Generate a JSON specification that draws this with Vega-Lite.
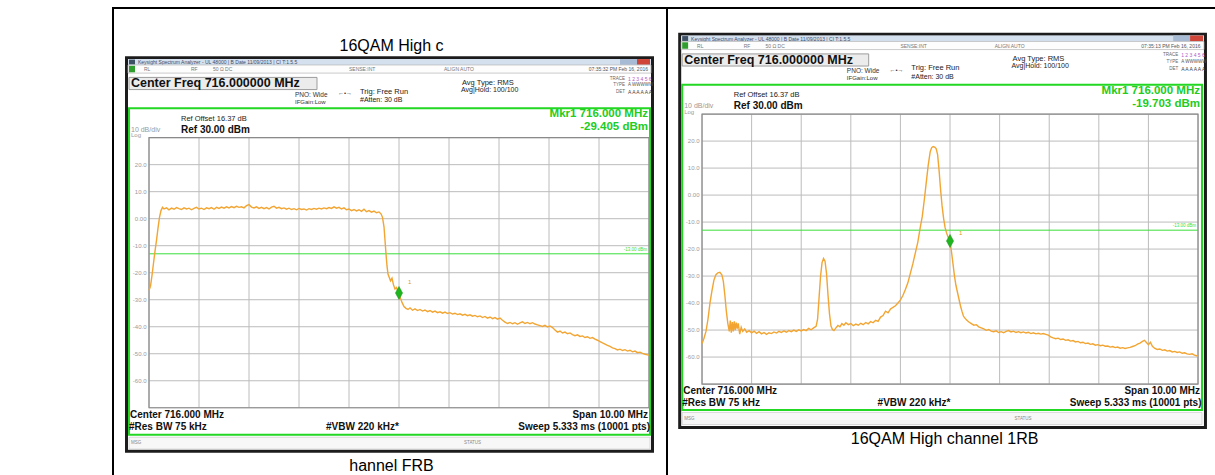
{
"$schema":"https://vega.github.io/schema/vega-lite/v6.json",
"background":"white",
"padding":{"left":7,"top":7,"right":0,"bottom":0},
"spacing":0,
"bounds":"flush",
"config":{"view":{"stroke":"#000000","strokeWidth":2},"font":"Liberation Sans"},
"datasets":{
"one":[{"k":1}],
"vgrid":[{"f":711},{"f":712},{"f":713},{"f":714},{"f":715},{"f":716},{"f":717},{"f":718},{"f":719},{"f":720},{"f":721}],
"hgrid":[{"d":30,"lab":""},{"d":20,"lab":"20.0"},{"d":10,"lab":"10.0"},{"d":0,"lab":"0.00"},{"d":-10,"lab":"-10.0"},{"d":-20,"lab":"-20.0"},{"d":-30,"lab":"-30.0"},{"d":-40,"lab":"-40.0"},{"d":-50,"lab":"-50.0"},{"d":-60,"lab":"-60.0"},{"d":-70,"lab":""}],
"markL":[{"f":716.0,"d":-27.5}],
"markR":[{"f":716.0,"d":-17.0}],
"traceL":[{"f":711.00,"d":-26.5},{"f":711.03,"d":-25.0},{"f":711.06,"d":-21.0},{"f":711.09,"d":-16.5},{"f":711.12,"d":-12.0},{"f":711.15,"d":-8.0},{"f":711.18,"d":-3.5},{"f":711.21,"d":0.5},{"f":711.24,"d":3.0},{"f":711.27,"d":4.2},{"f":711.30,"d":3.6},{"f":711.35,"d":4.0},{"f":711.40,"d":3.3},{"f":711.45,"d":3.9},{"f":711.50,"d":3.5},{"f":711.55,"d":4.1},{"f":711.60,"d":3.7},{"f":711.65,"d":3.4},{"f":711.70,"d":4.0},{"f":711.75,"d":3.6},{"f":711.80,"d":3.9},{"f":711.85,"d":3.3},{"f":711.90,"d":3.8},{"f":711.95,"d":4.2},{"f":712.00,"d":3.6},{"f":712.05,"d":3.9},{"f":712.10,"d":3.4},{"f":712.15,"d":4.0},{"f":712.20,"d":3.7},{"f":712.25,"d":4.1},{"f":712.30,"d":3.5},{"f":712.35,"d":4.2},{"f":712.40,"d":3.8},{"f":712.45,"d":4.3},{"f":712.50,"d":3.9},{"f":712.55,"d":4.4},{"f":712.60,"d":4.0},{"f":712.65,"d":4.5},{"f":712.70,"d":4.1},{"f":712.75,"d":4.6},{"f":712.80,"d":4.2},{"f":712.85,"d":4.4},{"f":712.90,"d":4.0},{"f":712.95,"d":4.8},{"f":713.00,"d":5.2},{"f":713.05,"d":4.3},{"f":713.10,"d":4.0},{"f":713.15,"d":4.4},{"f":713.20,"d":3.8},{"f":713.25,"d":4.2},{"f":713.30,"d":3.7},{"f":713.35,"d":4.1},{"f":713.40,"d":3.6},{"f":713.45,"d":4.3},{"f":713.50,"d":4.6},{"f":713.55,"d":3.9},{"f":713.60,"d":4.2},{"f":713.65,"d":3.7},{"f":713.70,"d":4.0},{"f":713.75,"d":3.5},{"f":713.80,"d":3.9},{"f":713.85,"d":3.4},{"f":713.90,"d":3.7},{"f":713.95,"d":3.3},{"f":714.00,"d":3.8},{"f":714.05,"d":3.4},{"f":714.10,"d":3.6},{"f":714.15,"d":3.2},{"f":714.20,"d":3.7},{"f":714.25,"d":3.4},{"f":714.30,"d":3.8},{"f":714.35,"d":3.5},{"f":714.40,"d":3.9},{"f":714.45,"d":3.6},{"f":714.50,"d":4.0},{"f":714.55,"d":3.7},{"f":714.60,"d":4.1},{"f":714.65,"d":3.8},{"f":714.70,"d":4.4},{"f":714.75,"d":3.9},{"f":714.80,"d":4.2},{"f":714.85,"d":3.6},{"f":714.90,"d":4.0},{"f":714.95,"d":3.3},{"f":715.00,"d":3.6},{"f":715.05,"d":3.0},{"f":715.10,"d":3.4},{"f":715.15,"d":2.9},{"f":715.20,"d":3.3},{"f":715.25,"d":2.7},{"f":715.30,"d":3.5},{"f":715.35,"d":2.6},{"f":715.40,"d":3.0},{"f":715.45,"d":2.4},{"f":715.50,"d":2.8},{"f":715.55,"d":2.2},{"f":715.60,"d":2.5},{"f":715.64,"d":1.8},{"f":715.67,"d":0.5},{"f":715.70,"d":-3.0},{"f":715.72,"d":-8.0},{"f":715.74,"d":-13.0},{"f":715.76,"d":-17.5},{"f":715.78,"d":-20.5},{"f":715.80,"d":-21.5},{"f":715.83,"d":-23.0},{"f":715.86,"d":-22.0},{"f":715.89,"d":-24.5},{"f":715.92,"d":-26.0},{"f":715.95,"d":-25.5},{"f":715.98,"d":-27.0},{"f":716.00,"d":-27.6},{"f":716.03,"d":-29.5},{"f":716.06,"d":-31.0},{"f":716.10,"d":-32.5},{"f":716.14,"d":-33.2},{"f":716.18,"d":-33.6},{"f":716.22,"d":-33.0},{"f":716.27,"d":-33.9},{"f":716.32,"d":-33.4},{"f":716.37,"d":-34.0},{"f":716.42,"d":-33.6},{"f":716.47,"d":-34.2},{"f":716.52,"d":-33.8},{"f":716.57,"d":-34.4},{"f":716.62,"d":-34.0},{"f":716.67,"d":-34.6},{"f":716.72,"d":-34.2},{"f":716.77,"d":-34.8},{"f":716.82,"d":-34.5},{"f":716.87,"d":-35.0},{"f":716.92,"d":-34.6},{"f":716.97,"d":-35.1},{"f":717.02,"d":-34.8},{"f":717.07,"d":-35.3},{"f":717.12,"d":-35.0},{"f":717.17,"d":-35.5},{"f":717.22,"d":-35.2},{"f":717.27,"d":-35.7},{"f":717.32,"d":-35.4},{"f":717.37,"d":-35.9},{"f":717.42,"d":-35.6},{"f":717.47,"d":-36.1},{"f":717.52,"d":-35.8},{"f":717.57,"d":-36.3},{"f":717.62,"d":-36.0},{"f":717.67,"d":-36.6},{"f":717.72,"d":-36.2},{"f":717.77,"d":-36.8},{"f":717.82,"d":-36.4},{"f":717.87,"d":-37.0},{"f":717.92,"d":-36.6},{"f":717.97,"d":-37.2},{"f":718.02,"d":-36.8},{"f":718.07,"d":-37.6},{"f":718.12,"d":-38.3},{"f":718.17,"d":-38.8},{"f":718.22,"d":-38.4},{"f":718.27,"d":-38.9},{"f":718.32,"d":-38.5},{"f":718.37,"d":-39.1},{"f":718.42,"d":-38.6},{"f":718.47,"d":-38.2},{"f":718.52,"d":-38.8},{"f":718.57,"d":-38.4},{"f":718.62,"d":-38.9},{"f":718.67,"d":-38.5},{"f":718.72,"d":-39.0},{"f":718.77,"d":-39.3},{"f":718.82,"d":-39.6},{"f":718.87,"d":-39.9},{"f":718.92,"d":-39.5},{"f":718.97,"d":-40.1},{"f":719.02,"d":-39.7},{"f":719.07,"d":-40.3},{"f":719.12,"d":-41.2},{"f":719.17,"d":-42.0},{"f":719.22,"d":-41.6},{"f":719.27,"d":-42.3},{"f":719.32,"d":-42.0},{"f":719.37,"d":-42.6},{"f":719.42,"d":-42.3},{"f":719.47,"d":-42.9},{"f":719.52,"d":-43.3},{"f":719.57,"d":-43.0},{"f":719.62,"d":-43.6},{"f":719.67,"d":-43.4},{"f":719.72,"d":-44.0},{"f":719.77,"d":-43.7},{"f":719.82,"d":-44.3},{"f":719.87,"d":-44.0},{"f":719.92,"d":-44.6},{"f":719.97,"d":-45.0},{"f":720.02,"d":-45.5},{"f":720.07,"d":-46.0},{"f":720.12,"d":-46.4},{"f":720.17,"d":-46.9},{"f":720.22,"d":-47.3},{"f":720.27,"d":-47.8},{"f":720.32,"d":-48.1},{"f":720.37,"d":-48.6},{"f":720.42,"d":-48.3},{"f":720.47,"d":-48.8},{"f":720.52,"d":-48.5},{"f":720.57,"d":-49.0},{"f":720.62,"d":-48.7},{"f":720.67,"d":-49.3},{"f":720.72,"d":-49.0},{"f":720.77,"d":-49.6},{"f":720.82,"d":-49.4},{"f":720.87,"d":-49.9},{"f":720.92,"d":-50.2},{"f":720.97,"d":-50.4},{"f":721.00,"d":-50.6}],
"traceR":[{"f":711.00,"d":-55.0},{"f":711.04,"d":-53.0},{"f":711.08,"d":-50.5},{"f":711.12,"d":-46.0},{"f":711.16,"d":-40.0},{"f":711.20,"d":-35.5},{"f":711.24,"d":-31.5},{"f":711.28,"d":-29.5},{"f":711.32,"d":-28.8},{"f":711.36,"d":-28.6},{"f":711.40,"d":-29.5},{"f":711.43,"d":-32.0},{"f":711.46,"d":-37.0},{"f":711.49,"d":-43.0},{"f":711.52,"d":-47.5},{"f":711.55,"d":-50.5},{"f":711.57,"d":-46.5},{"f":711.59,"d":-51.0},{"f":711.61,"d":-47.0},{"f":711.63,"d":-50.5},{"f":711.65,"d":-46.8},{"f":711.67,"d":-50.0},{"f":711.69,"d":-47.2},{"f":711.71,"d":-49.5},{"f":711.73,"d":-47.5},{"f":711.76,"d":-51.5},{"f":711.79,"d":-49.0},{"f":711.82,"d":-50.5},{"f":711.86,"d":-49.6},{"f":711.90,"d":-50.8},{"f":711.95,"d":-50.2},{"f":712.00,"d":-51.0},{"f":712.05,"d":-50.4},{"f":712.10,"d":-51.2},{"f":712.15,"d":-50.6},{"f":712.20,"d":-51.4},{"f":712.25,"d":-50.9},{"f":712.30,"d":-51.6},{"f":712.35,"d":-51.0},{"f":712.40,"d":-51.3},{"f":712.45,"d":-50.7},{"f":712.50,"d":-51.1},{"f":712.55,"d":-50.5},{"f":712.60,"d":-50.9},{"f":712.65,"d":-50.3},{"f":712.70,"d":-50.8},{"f":712.75,"d":-50.2},{"f":712.80,"d":-50.6},{"f":712.85,"d":-50.0},{"f":712.90,"d":-50.5},{"f":712.95,"d":-49.9},{"f":713.00,"d":-50.3},{"f":713.05,"d":-49.8},{"f":713.10,"d":-50.2},{"f":713.15,"d":-49.4},{"f":713.20,"d":-49.9},{"f":713.25,"d":-49.2},{"f":713.30,"d":-48.6},{"f":713.33,"d":-46.0},{"f":713.36,"d":-38.0},{"f":713.39,"d":-30.0},{"f":713.42,"d":-25.0},{"f":713.45,"d":-23.5},{"f":713.48,"d":-24.5},{"f":713.51,"d":-29.0},{"f":713.54,"d":-37.0},{"f":713.57,"d":-44.0},{"f":713.60,"d":-48.5},{"f":713.63,"d":-49.8},{"f":713.66,"d":-50.2},{"f":713.70,"d":-49.2},{"f":713.74,"d":-48.3},{"f":713.78,"d":-48.8},{"f":713.82,"d":-47.6},{"f":713.86,"d":-48.2},{"f":713.90,"d":-47.3},{"f":713.95,"d":-48.0},{"f":714.00,"d":-47.6},{"f":714.05,"d":-48.4},{"f":714.10,"d":-47.8},{"f":714.15,"d":-48.2},{"f":714.20,"d":-47.5},{"f":714.25,"d":-48.0},{"f":714.30,"d":-47.2},{"f":714.35,"d":-47.7},{"f":714.40,"d":-46.9},{"f":714.45,"d":-47.3},{"f":714.50,"d":-46.4},{"f":714.55,"d":-46.8},{"f":714.60,"d":-45.2},{"f":714.65,"d":-44.6},{"f":714.70,"d":-43.0},{"f":714.75,"d":-43.6},{"f":714.80,"d":-42.2},{"f":714.85,"d":-41.6},{"f":714.90,"d":-41.0},{"f":714.95,"d":-40.0},{"f":715.00,"d":-38.8},{"f":715.05,"d":-37.2},{"f":715.10,"d":-35.0},{"f":715.15,"d":-32.5},{"f":715.20,"d":-29.0},{"f":715.25,"d":-25.5},{"f":715.30,"d":-21.5},{"f":715.35,"d":-17.5},{"f":715.40,"d":-12.0},{"f":715.44,"d":-8.0},{"f":715.48,"d":-2.0},{"f":715.52,"d":4.5},{"f":715.56,"d":11.0},{"f":715.60,"d":16.0},{"f":715.63,"d":17.6},{"f":715.66,"d":18.0},{"f":715.69,"d":17.8},{"f":715.72,"d":17.2},{"f":715.75,"d":15.0},{"f":715.78,"d":9.0},{"f":715.81,"d":2.0},{"f":715.84,"d":-4.0},{"f":715.87,"d":-8.5},{"f":715.90,"d":-12.0},{"f":715.93,"d":-14.0},{"f":715.96,"d":-15.5},{"f":716.00,"d":-17.0},{"f":716.03,"d":-21.0},{"f":716.06,"d":-25.5},{"f":716.09,"d":-30.0},{"f":716.12,"d":-33.5},{"f":716.15,"d":-36.0},{"f":716.18,"d":-38.5},{"f":716.21,"d":-41.0},{"f":716.24,"d":-43.0},{"f":716.27,"d":-44.8},{"f":716.30,"d":-45.6},{"f":716.34,"d":-46.4},{"f":716.38,"d":-47.0},{"f":716.43,"d":-47.6},{"f":716.48,"d":-48.2},{"f":716.53,"d":-48.0},{"f":716.58,"d":-48.8},{"f":716.63,"d":-49.2},{"f":716.68,"d":-49.6},{"f":716.73,"d":-50.1},{"f":716.78,"d":-49.8},{"f":716.83,"d":-50.4},{"f":716.88,"d":-50.6},{"f":716.93,"d":-50.3},{"f":716.98,"d":-50.9},{"f":717.03,"d":-50.6},{"f":717.08,"d":-51.0},{"f":717.13,"d":-50.5},{"f":717.18,"d":-50.2},{"f":717.23,"d":-50.7},{"f":717.28,"d":-50.4},{"f":717.33,"d":-50.9},{"f":717.38,"d":-50.6},{"f":717.43,"d":-51.0},{"f":717.48,"d":-50.7},{"f":717.53,"d":-51.1},{"f":717.58,"d":-50.8},{"f":717.63,"d":-51.3},{"f":717.68,"d":-51.0},{"f":717.73,"d":-51.4},{"f":717.78,"d":-51.2},{"f":717.83,"d":-51.5},{"f":717.88,"d":-51.3},{"f":717.93,"d":-51.6},{"f":717.98,"d":-51.9},{"f":718.03,"d":-52.5},{"f":718.08,"d":-52.9},{"f":718.13,"d":-53.2},{"f":718.18,"d":-53.0},{"f":718.23,"d":-53.5},{"f":718.28,"d":-53.3},{"f":718.33,"d":-53.8},{"f":718.38,"d":-53.6},{"f":718.43,"d":-54.1},{"f":718.48,"d":-53.9},{"f":718.53,"d":-54.4},{"f":718.58,"d":-54.2},{"f":718.63,"d":-54.7},{"f":718.68,"d":-54.5},{"f":718.73,"d":-55.0},{"f":718.78,"d":-54.8},{"f":718.83,"d":-55.3},{"f":718.88,"d":-55.1},{"f":718.93,"d":-55.6},{"f":718.98,"d":-55.4},{"f":719.03,"d":-55.8},{"f":719.08,"d":-55.6},{"f":719.13,"d":-56.0},{"f":719.18,"d":-55.9},{"f":719.23,"d":-56.3},{"f":719.28,"d":-56.1},{"f":719.33,"d":-56.5},{"f":719.38,"d":-56.3},{"f":719.43,"d":-56.7},{"f":719.48,"d":-56.5},{"f":719.53,"d":-56.8},{"f":719.58,"d":-56.6},{"f":719.63,"d":-56.4},{"f":719.68,"d":-56.1},{"f":719.73,"d":-55.8},{"f":719.78,"d":-55.2},{"f":719.83,"d":-54.8},{"f":719.88,"d":-54.2},{"f":719.92,"d":-53.8},{"f":719.96,"d":-54.6},{"f":720.00,"d":-55.4},{"f":720.04,"d":-54.5},{"f":720.08,"d":-56.0},{"f":720.13,"d":-56.8},{"f":720.18,"d":-57.2},{"f":720.23,"d":-57.0},{"f":720.28,"d":-57.5},{"f":720.33,"d":-57.3},{"f":720.38,"d":-57.8},{"f":720.43,"d":-57.6},{"f":720.48,"d":-58.1},{"f":720.53,"d":-57.9},{"f":720.58,"d":-58.3},{"f":720.63,"d":-58.1},{"f":720.68,"d":-58.6},{"f":720.73,"d":-58.4},{"f":720.78,"d":-58.8},{"f":720.83,"d":-59.0},{"f":720.88,"d":-58.8},{"f":720.93,"d":-59.3},{"f":720.97,"d":-59.5},{"f":721.00,"d":-59.7}]
},
"hconcat":[
{"width":106,"height":470,"data":{"name":"one"},"mark":{"type":"text","text":""}},
{"width":554,"height":470,"data":{"name":"one"},
"layer":[
{"mark":{"type":"rect","fill":"#ffffff","stroke":"#1c1c1c","strokeWidth":3},"encoding":{"x":{"datum":710.55,"type":"quantitative","scale":{"domain":[710.28,721.36],"nice":false,"zero":false},"axis":null},"x2":{"datum":721.07},"y":{"datum":59.6,"type":"quantitative","scale":{"domain":[-96,78],"nice":false,"zero":false},"axis":null},"y2":{"datum":-86.1}}},
{"mark":{"type":"rect","fill":"#d4e0ee"},"encoding":{"x":{"datum":710.58,"type":"quantitative","scale":{"domain":[710.28,721.36],"nice":false,"zero":false},"axis":null},"x2":{"datum":721.04},"y":{"datum":59.1,"type":"quantitative","scale":{"domain":[-96,78],"nice":false,"zero":false},"axis":null},"y2":{"datum":56.9}}},
{"mark":{"type":"rect","fill":"#3e5064"},"encoding":{"x":{"datum":710.6,"type":"quantitative","scale":{"domain":[710.28,721.36],"nice":false,"zero":false},"axis":null},"x2":{"datum":710.72},"y":{"datum":58.9,"type":"quantitative","scale":{"domain":[-96,78],"nice":false,"zero":false},"axis":null},"y2":{"datum":57.1}}},
{"mark":{"type":"rect","fill":"#a8bbd4"},"encoding":{"x":{"datum":720.42,"type":"quantitative","scale":{"domain":[710.28,721.36],"nice":false,"zero":false},"axis":null},"x2":{"datum":720.76},"y":{"datum":59.1,"type":"quantitative","scale":{"domain":[-96,78],"nice":false,"zero":false},"axis":null},"y2":{"datum":57.0}}},
{"mark":{"type":"rect","fill":"#cf4538"},"encoding":{"x":{"datum":720.76,"type":"quantitative","scale":{"domain":[710.28,721.36],"nice":false,"zero":false},"axis":null},"x2":{"datum":721.02},"y":{"datum":59.1,"type":"quantitative","scale":{"domain":[-96,78],"nice":false,"zero":false},"axis":null},"y2":{"datum":57.0}}},
{"mark":{"type":"text","text":"Keysight Spectrum Analyzer - UL 48000 | B Date 11/09/2013 | CI T:1.5.5","fontSize":5,"fill":"#3b4b6b","align":"left","baseline":"middle"},"encoding":{"x":{"datum":710.78,"type":"quantitative","scale":{"domain":[710.28,721.36],"nice":false,"zero":false},"axis":null},"y":{"datum":58.0,"type":"quantitative","scale":{"domain":[-96,78],"nice":false,"zero":false},"axis":null}}},
{"mark":{"type":"rect","fill":"#fdfdfd","stroke":"#b5b5b5","strokeWidth":0.7},"encoding":{"x":{"datum":710.58,"type":"quantitative","scale":{"domain":[710.28,721.36],"nice":false,"zero":false},"axis":null},"x2":{"datum":721.04},"y":{"datum":56.9,"type":"quantitative","scale":{"domain":[-96,78],"nice":false,"zero":false},"axis":null},"y2":{"datum":53.9}}},
{"mark":{"type":"rect","fill":"#2f9e2f"},"encoding":{"x":{"datum":710.6,"type":"quantitative","scale":{"domain":[710.28,721.36],"nice":false,"zero":false},"axis":null},"x2":{"datum":710.72},"y":{"datum":56.6,"type":"quantitative","scale":{"domain":[-96,78],"nice":false,"zero":false},"axis":null},"y2":{"datum":54.2}}},
{"mark":{"type":"text","text":"RL","fontSize":5,"fill":"#777777","align":"left","baseline":"middle"},"encoding":{"x":{"datum":710.9,"type":"quantitative","scale":{"domain":[710.28,721.36],"nice":false,"zero":false},"axis":null},"y":{"datum":55.4,"type":"quantitative","scale":{"domain":[-96,78],"nice":false,"zero":false},"axis":null}}},
{"mark":{"type":"text","text":"RF","fontSize":5,"fill":"#777777","align":"left","baseline":"middle"},"encoding":{"x":{"datum":711.84,"type":"quantitative","scale":{"domain":[710.28,721.36],"nice":false,"zero":false},"axis":null},"y":{"datum":55.4,"type":"quantitative","scale":{"domain":[-96,78],"nice":false,"zero":false},"axis":null}}},
{"mark":{"type":"text","text":"50 Ω  DC","fontSize":5,"fill":"#777777","align":"left","baseline":"middle"},"encoding":{"x":{"datum":712.28,"type":"quantitative","scale":{"domain":[710.28,721.36],"nice":false,"zero":false},"axis":null},"y":{"datum":55.4,"type":"quantitative","scale":{"domain":[-96,78],"nice":false,"zero":false},"axis":null}}},
{"mark":{"type":"text","text":"SENSE:INT","fontSize":5,"fill":"#777777","align":"left","baseline":"middle"},"encoding":{"x":{"datum":715.0,"type":"quantitative","scale":{"domain":[710.28,721.36],"nice":false,"zero":false},"axis":null},"y":{"datum":55.4,"type":"quantitative","scale":{"domain":[-96,78],"nice":false,"zero":false},"axis":null}}},
{"mark":{"type":"text","text":"ALIGN AUTO","fontSize":5,"fill":"#777777","align":"left","baseline":"middle"},"encoding":{"x":{"datum":716.9,"type":"quantitative","scale":{"domain":[710.28,721.36],"nice":false,"zero":false},"axis":null},"y":{"datum":55.4,"type":"quantitative","scale":{"domain":[-96,78],"nice":false,"zero":false},"axis":null}}},
{"mark":{"type":"text","text":"07:35:32 PM Feb 16, 2016","fontSize":5,"fill":"#555555","align":"right","baseline":"middle"},"encoding":{"x":{"datum":720.98,"type":"quantitative","scale":{"domain":[710.28,721.36],"nice":false,"zero":false},"axis":null},"y":{"datum":55.4,"type":"quantitative","scale":{"domain":[-96,78],"nice":false,"zero":false},"axis":null}}},
{"mark":{"type":"rect","fill":"#ececec","stroke":"#9d9d9d","strokeWidth":1},"encoding":{"x":{"datum":710.6,"type":"quantitative","scale":{"domain":[710.28,721.36],"nice":false,"zero":false},"axis":null},"x2":{"datum":714.36},"y":{"datum":52.3,"type":"quantitative","scale":{"domain":[-96,78],"nice":false,"zero":false},"axis":null},"y2":{"datum":47.8}}},
{"mark":{"type":"text","text":"Center Freq 716.000000 MHz","fontSize":12.5,"fontWeight":"bold","fill":"#111111","align":"left","baseline":"middle"},"encoding":{"x":{"datum":710.64,"type":"quantitative","scale":{"domain":[710.28,721.36],"nice":false,"zero":false},"axis":null},"y":{"datum":50.1,"type":"quantitative","scale":{"domain":[-96,78],"nice":false,"zero":false},"axis":null}}},
{"mark":{"type":"text","text":"PNO: Wide","fontSize":6.5,"fill":"#333333","align":"left","baseline":"middle"},"encoding":{"x":{"datum":713.92,"type":"quantitative","scale":{"domain":[710.28,721.36],"nice":false,"zero":false},"axis":null},"y":{"datum":45.9,"type":"quantitative","scale":{"domain":[-96,78],"nice":false,"zero":false},"axis":null}}},
{"mark":{"type":"text","text":"IFGain:Low","fontSize":6,"fill":"#333333","align":"left","baseline":"middle"},"encoding":{"x":{"datum":713.92,"type":"quantitative","scale":{"domain":[710.28,721.36],"nice":false,"zero":false},"axis":null},"y":{"datum":43.3,"type":"quantitative","scale":{"domain":[-96,78],"nice":false,"zero":false},"axis":null}}},
{"mark":{"type":"text","text":"←•→","fontSize":6,"fill":"#333333","align":"center","baseline":"middle"},"encoding":{"x":{"datum":714.92,"type":"quantitative","scale":{"domain":[710.28,721.36],"nice":false,"zero":false},"axis":null},"y":{"datum":46.4,"type":"quantitative","scale":{"domain":[-96,78],"nice":false,"zero":false},"axis":null}}},
{"mark":{"type":"text","text":"Trig: Free Run","fontSize":7.5,"fill":"#222222","align":"left","baseline":"middle"},"encoding":{"x":{"datum":715.22,"type":"quantitative","scale":{"domain":[710.28,721.36],"nice":false,"zero":false},"axis":null},"y":{"datum":47.0,"type":"quantitative","scale":{"domain":[-96,78],"nice":false,"zero":false},"axis":null}}},
{"mark":{"type":"text","text":"#Atten: 30 dB","fontSize":7,"fill":"#222222","align":"left","baseline":"middle"},"encoding":{"x":{"datum":715.22,"type":"quantitative","scale":{"domain":[710.28,721.36],"nice":false,"zero":false},"axis":null},"y":{"datum":43.8,"type":"quantitative","scale":{"domain":[-96,78],"nice":false,"zero":false},"axis":null}}},
{"mark":{"type":"text","text":"Avg Type: RMS","fontSize":7.5,"fill":"#222222","align":"left","baseline":"middle"},"encoding":{"x":{"datum":717.26,"type":"quantitative","scale":{"domain":[710.28,721.36],"nice":false,"zero":false},"axis":null},"y":{"datum":50.4,"type":"quantitative","scale":{"domain":[-96,78],"nice":false,"zero":false},"axis":null}}},
{"mark":{"type":"text","text":"Avg|Hold: 100/100","fontSize":7,"fill":"#222222","align":"left","baseline":"middle"},"encoding":{"x":{"datum":717.24,"type":"quantitative","scale":{"domain":[710.28,721.36],"nice":false,"zero":false},"axis":null},"y":{"datum":47.8,"type":"quantitative","scale":{"domain":[-96,78],"nice":false,"zero":false},"axis":null}}},
{"mark":{"type":"text","text":"TRACE","fontSize":4.5,"fill":"#666666","align":"right","baseline":"middle"},"encoding":{"x":{"datum":720.52,"type":"quantitative","scale":{"domain":[710.28,721.36],"nice":false,"zero":false},"axis":null},"y":{"datum":51.9,"type":"quantitative","scale":{"domain":[-96,78],"nice":false,"zero":false},"axis":null}}},
{"mark":{"type":"text","text":"1 2 3 4 5 6","fontSize":5,"fill":"#b05ac8","align":"left","baseline":"middle"},"encoding":{"x":{"datum":720.58,"type":"quantitative","scale":{"domain":[710.28,721.36],"nice":false,"zero":false},"axis":null},"y":{"datum":51.9,"type":"quantitative","scale":{"domain":[-96,78],"nice":false,"zero":false},"axis":null}}},
{"mark":{"type":"text","text":"TYPE","fontSize":4.5,"fill":"#666666","align":"right","baseline":"middle"},"encoding":{"x":{"datum":720.52,"type":"quantitative","scale":{"domain":[710.28,721.36],"nice":false,"zero":false},"axis":null},"y":{"datum":49.4,"type":"quantitative","scale":{"domain":[-96,78],"nice":false,"zero":false},"axis":null}}},
{"mark":{"type":"text","text":"A WWWWW","fontSize":4.5,"fill":"#555555","align":"left","baseline":"middle"},"encoding":{"x":{"datum":720.58,"type":"quantitative","scale":{"domain":[710.28,721.36],"nice":false,"zero":false},"axis":null},"y":{"datum":49.4,"type":"quantitative","scale":{"domain":[-96,78],"nice":false,"zero":false},"axis":null}}},
{"mark":{"type":"text","text":"DET","fontSize":4.5,"fill":"#666666","align":"right","baseline":"middle"},"encoding":{"x":{"datum":720.52,"type":"quantitative","scale":{"domain":[710.28,721.36],"nice":false,"zero":false},"axis":null},"y":{"datum":46.8,"type":"quantitative","scale":{"domain":[-96,78],"nice":false,"zero":false},"axis":null}}},
{"mark":{"type":"text","text":"A A A A A A","fontSize":5,"fill":"#444444","align":"left","baseline":"middle"},"encoding":{"x":{"datum":720.58,"type":"quantitative","scale":{"domain":[710.28,721.36],"nice":false,"zero":false},"axis":null},"y":{"datum":46.8,"type":"quantitative","scale":{"domain":[-96,78],"nice":false,"zero":false},"axis":null}}},
{"mark":{"type":"rect","fill":"#ffffff","fillOpacity":0,"stroke":"#22d822","strokeWidth":2},"encoding":{"x":{"datum":710.6,"type":"quantitative","scale":{"domain":[710.28,721.36],"nice":false,"zero":false},"axis":null},"x2":{"datum":721.02},"y":{"datum":40.9,"type":"quantitative","scale":{"domain":[-96,78],"nice":false,"zero":false},"axis":null},"y2":{"datum":-80.0}}},
{"mark":{"type":"text","text":"Ref Offset 16.37 dB","fontSize":7.5,"fill":"#222222","align":"left","baseline":"middle"},"encoding":{"x":{"datum":711.64,"type":"quantitative","scale":{"domain":[710.28,721.36],"nice":false,"zero":false},"axis":null},"y":{"datum":37.0,"type":"quantitative","scale":{"domain":[-96,78],"nice":false,"zero":false},"axis":null}}},
{"mark":{"type":"text","text":"Ref 30.00 dBm","fontSize":10,"fontWeight":"bold","fill":"#111111","align":"left","baseline":"middle"},"encoding":{"x":{"datum":711.64,"type":"quantitative","scale":{"domain":[710.28,721.36],"nice":false,"zero":false},"axis":null},"y":{"datum":33.0,"type":"quantitative","scale":{"domain":[-96,78],"nice":false,"zero":false},"axis":null}}},
{"mark":{"type":"text","text":"10 dB/div","fontSize":7,"fill":"#9a9a9a","align":"left","baseline":"middle"},"encoding":{"x":{"datum":710.64,"type":"quantitative","scale":{"domain":[710.28,721.36],"nice":false,"zero":false},"axis":null},"y":{"datum":33.0,"type":"quantitative","scale":{"domain":[-96,78],"nice":false,"zero":false},"axis":null}}},
{"mark":{"type":"text","text":"Log","fontSize":6,"fill":"#9a9a9a","align":"left","baseline":"middle"},"encoding":{"x":{"datum":710.64,"type":"quantitative","scale":{"domain":[710.28,721.36],"nice":false,"zero":false},"axis":null},"y":{"datum":30.8,"type":"quantitative","scale":{"domain":[-96,78],"nice":false,"zero":false},"axis":null}}},
{"mark":{"type":"text","text":"Mkr1 716.000 MHz","fontSize":11.5,"fontWeight":"bold","fill":"#22cc22","align":"right","baseline":"middle"},"encoding":{"x":{"datum":720.98,"type":"quantitative","scale":{"domain":[710.28,721.36],"nice":false,"zero":false},"axis":null},"y":{"datum":38.7,"type":"quantitative","scale":{"domain":[-96,78],"nice":false,"zero":false},"axis":null}}},
{"mark":{"type":"text","text":"-29.405 dBm","fontSize":11.5,"fontWeight":"bold","fill":"#22cc22","align":"right","baseline":"middle"},"encoding":{"x":{"datum":720.98,"type":"quantitative","scale":{"domain":[710.28,721.36],"nice":false,"zero":false},"axis":null},"y":{"datum":33.8,"type":"quantitative","scale":{"domain":[-96,78],"nice":false,"zero":false},"axis":null}}},
{"data":{"name":"vgrid"},"mark":{"type":"rule","stroke":"#bcbcbc","strokeWidth":1},"encoding":{"x":{"field":"f","type":"quantitative","scale":{"domain":[710.28,721.36],"nice":false,"zero":false},"axis":null},"y":{"datum":-70,"type":"quantitative","scale":{"domain":[-96,78],"nice":false,"zero":false},"axis":null},"y2":{"datum":30}}},
{"data":{"name":"hgrid"},"mark":{"type":"rule","stroke":"#bcbcbc","strokeWidth":1},"encoding":{"y":{"field":"d","type":"quantitative","scale":{"domain":[-96,78],"nice":false,"zero":false},"axis":null},"x":{"datum":711,"type":"quantitative","scale":{"domain":[710.28,721.36],"nice":false,"zero":false},"axis":null},"x2":{"datum":721}}},
{"data":{"name":"hgrid"},"mark":{"type":"text","fontSize":6,"fill":"#9a9a9a","align":"right","baseline":"middle"},"encoding":{"text":{"field":"lab","type":"nominal"},"y":{"field":"d","type":"quantitative","scale":{"domain":[-96,78],"nice":false,"zero":false},"axis":null},"x":{"datum":710.95,"type":"quantitative","scale":{"domain":[710.28,721.36],"nice":false,"zero":false},"axis":null}}},
{"mark":{"type":"rect","fill":"#ffffff","fillOpacity":0,"stroke":"#8a8a8a","strokeWidth":1.2},"encoding":{"x":{"datum":711,"type":"quantitative","scale":{"domain":[710.28,721.36],"nice":false,"zero":false},"axis":null},"x2":{"datum":721},"y":{"datum":30,"type":"quantitative","scale":{"domain":[-96,78],"nice":false,"zero":false},"axis":null},"y2":{"datum":-70}}},
{"mark":{"type":"rule","stroke":"#3ade3a","strokeWidth":1},"encoding":{"x":{"datum":711,"type":"quantitative","scale":{"domain":[710.28,721.36],"nice":false,"zero":false},"axis":null},"x2":{"datum":721},"y":{"datum":-13,"type":"quantitative","scale":{"domain":[-96,78],"nice":false,"zero":false},"axis":null}}},
{"mark":{"type":"text","text":"-13.00 dBm","fontSize":4.5,"fill":"#3ade3a","align":"right","baseline":"middle"},"encoding":{"x":{"datum":720.96,"type":"quantitative","scale":{"domain":[710.28,721.36],"nice":false,"zero":false},"axis":null},"y":{"datum":-11.6,"type":"quantitative","scale":{"domain":[-96,78],"nice":false,"zero":false},"axis":null}}},
{"data":{"name":"traceL"},"mark":{"type":"line","color":"#f2a532","strokeWidth":1.4},"encoding":{"x":{"field":"f","type":"quantitative","scale":{"domain":[710.28,721.36],"nice":false,"zero":false},"axis":null},"y":{"field":"d","type":"quantitative","scale":{"domain":[-96,78],"nice":false,"zero":false},"axis":null}}},
{"data":{"name":"markL"},"mark":{"type":"point","shape":"M0,-1L0.55,0L0,1L-0.55,0Z","filled":true,"fill":"#1fb51f","stroke":"#168f16","strokeWidth":0.5,"size":169,"opacity":1},"encoding":{"x":{"field":"f","type":"quantitative","scale":{"domain":[710.28,721.36],"nice":false,"zero":false},"axis":null},"y":{"field":"d","type":"quantitative","scale":{"domain":[-96,78],"nice":false,"zero":false},"axis":null}}},
{"mark":{"type":"text","text":"1","fontSize":6,"fill":"#e09a20","align":"left","baseline":"middle"},"encoding":{"x":{"datum":716.18,"type":"quantitative","scale":{"domain":[710.28,721.36],"nice":false,"zero":false},"axis":null},"y":{"datum":-23.5,"type":"quantitative","scale":{"domain":[-96,78],"nice":false,"zero":false},"axis":null}}},
{"mark":{"type":"text","text":"Center 716.000 MHz","fontSize":10,"fontWeight":"bold","fill":"#111111","align":"left","baseline":"middle"},"encoding":{"x":{"datum":710.62,"type":"quantitative","scale":{"domain":[710.28,721.36],"nice":false,"zero":false},"axis":null},"y":{"datum":-72.6,"type":"quantitative","scale":{"domain":[-96,78],"nice":false,"zero":false},"axis":null}}},
{"mark":{"type":"text","text":"Span 10.00 MHz","fontSize":10,"fontWeight":"bold","fill":"#111111","align":"right","baseline":"middle"},"encoding":{"x":{"datum":720.98,"type":"quantitative","scale":{"domain":[710.28,721.36],"nice":false,"zero":false},"axis":null},"y":{"datum":-72.6,"type":"quantitative","scale":{"domain":[-96,78],"nice":false,"zero":false},"axis":null}}},
{"mark":{"type":"text","text":"#Res BW 75 kHz","fontSize":10,"fontWeight":"bold","fill":"#111111","align":"left","baseline":"middle"},"encoding":{"x":{"datum":710.6,"type":"quantitative","scale":{"domain":[710.28,721.36],"nice":false,"zero":false},"axis":null},"y":{"datum":-77.0,"type":"quantitative","scale":{"domain":[-96,78],"nice":false,"zero":false},"axis":null}}},
{"mark":{"type":"text","text":"#VBW 220 kHz*","fontSize":10,"fontWeight":"bold","fill":"#111111","align":"left","baseline":"middle"},"encoding":{"x":{"datum":714.54,"type":"quantitative","scale":{"domain":[710.28,721.36],"nice":false,"zero":false},"axis":null},"y":{"datum":-77.0,"type":"quantitative","scale":{"domain":[-96,78],"nice":false,"zero":false},"axis":null}}},
{"mark":{"type":"text","text":"Sweep  5.333 ms (10001 pts)","fontSize":10,"fontWeight":"bold","fill":"#111111","align":"right","baseline":"middle"},"encoding":{"x":{"datum":721.02,"type":"quantitative","scale":{"domain":[710.28,721.36],"nice":false,"zero":false},"axis":null},"y":{"datum":-77.0,"type":"quantitative","scale":{"domain":[-96,78],"nice":false,"zero":false},"axis":null}}},
{"mark":{"type":"rect","fill":"#f7f7f7","stroke":"#c8c8c8","strokeWidth":0.7},"encoding":{"x":{"datum":710.6,"type":"quantitative","scale":{"domain":[710.28,721.36],"nice":false,"zero":false},"axis":null},"x2":{"datum":721.02},"y":{"datum":-80.9,"type":"quantitative","scale":{"domain":[-96,78],"nice":false,"zero":false},"axis":null},"y2":{"datum":-85.3}}},
{"mark":{"type":"text","text":"MSG","fontSize":4.5,"fill":"#888888","align":"left","baseline":"middle"},"encoding":{"x":{"datum":710.64,"type":"quantitative","scale":{"domain":[710.28,721.36],"nice":false,"zero":false},"axis":null},"y":{"datum":-83.1,"type":"quantitative","scale":{"domain":[-96,78],"nice":false,"zero":false},"axis":null}}},
{"mark":{"type":"text","text":"STATUS","fontSize":4.5,"fill":"#888888","align":"left","baseline":"middle"},"encoding":{"x":{"datum":717.3,"type":"quantitative","scale":{"domain":[710.28,721.36],"nice":false,"zero":false},"axis":null},"y":{"datum":-83.1,"type":"quantitative","scale":{"domain":[-96,78],"nice":false,"zero":false},"axis":null}}},
{"mark":{"type":"text","text":"16QAM High c","fontSize":16,"fill":"#000000","align":"center","baseline":"middle"},"encoding":{"x":{"datum":715.85,"type":"quantitative","scale":{"domain":[710.28,721.36],"nice":false,"zero":false},"axis":null},"y":{"datum":64.1,"type":"quantitative","scale":{"domain":[-96,78],"nice":false,"zero":false},"axis":null}}},
{"mark":{"type":"text","text":"hannel FRB","fontSize":16,"fill":"#000000","align":"center","baseline":"middle"},"encoding":{"x":{"datum":715.85,"type":"quantitative","scale":{"domain":[710.28,721.36],"nice":false,"zero":false},"axis":null},"y":{"datum":-91.5,"type":"quantitative","scale":{"domain":[-96,78],"nice":false,"zero":false},"axis":null}}}
]},
{"width":552,"height":470,"data":{"name":"one"},
"layer":[
{"mark":{"type":"rect","fill":"#ffffff","stroke":"#1c1c1c","strokeWidth":3},"encoding":{"x":{"datum":710.55,"type":"quantitative","scale":{"domain":[710.294,721.423],"nice":false,"zero":false},"axis":null},"x2":{"datum":721.15},"y":{"datum":59.6,"type":"quantitative","scale":{"domain":[-104.8,69.3],"nice":false,"zero":false},"axis":null},"y2":{"datum":-86.1}}},
{"mark":{"type":"rect","fill":"#d4e0ee"},"encoding":{"x":{"datum":710.58,"type":"quantitative","scale":{"domain":[710.294,721.423],"nice":false,"zero":false},"axis":null},"x2":{"datum":721.12},"y":{"datum":59.1,"type":"quantitative","scale":{"domain":[-104.8,69.3],"nice":false,"zero":false},"axis":null},"y2":{"datum":56.9}}},
{"mark":{"type":"rect","fill":"#3e5064"},"encoding":{"x":{"datum":710.6,"type":"quantitative","scale":{"domain":[710.294,721.423],"nice":false,"zero":false},"axis":null},"x2":{"datum":710.72},"y":{"datum":58.9,"type":"quantitative","scale":{"domain":[-104.8,69.3],"nice":false,"zero":false},"axis":null},"y2":{"datum":57.1}}},
{"mark":{"type":"rect","fill":"#a8bbd4"},"encoding":{"x":{"datum":720.5,"type":"quantitative","scale":{"domain":[710.294,721.423],"nice":false,"zero":false},"axis":null},"x2":{"datum":720.84},"y":{"datum":59.1,"type":"quantitative","scale":{"domain":[-104.8,69.3],"nice":false,"zero":false},"axis":null},"y2":{"datum":57.0}}},
{"mark":{"type":"rect","fill":"#cf4538"},"encoding":{"x":{"datum":720.84,"type":"quantitative","scale":{"domain":[710.294,721.423],"nice":false,"zero":false},"axis":null},"x2":{"datum":721.1},"y":{"datum":59.1,"type":"quantitative","scale":{"domain":[-104.8,69.3],"nice":false,"zero":false},"axis":null},"y2":{"datum":57.0}}},
{"mark":{"type":"text","text":"Keysight Spectrum Analyzer - UL 48000 | B Date 11/09/2013 | CI T:1.5.5","fontSize":5,"fill":"#3b4b6b","align":"left","baseline":"middle"},"encoding":{"x":{"datum":710.78,"type":"quantitative","scale":{"domain":[710.294,721.423],"nice":false,"zero":false},"axis":null},"y":{"datum":58.0,"type":"quantitative","scale":{"domain":[-104.8,69.3],"nice":false,"zero":false},"axis":null}}},
{"mark":{"type":"rect","fill":"#fdfdfd","stroke":"#b5b5b5","strokeWidth":0.7},"encoding":{"x":{"datum":710.58,"type":"quantitative","scale":{"domain":[710.294,721.423],"nice":false,"zero":false},"axis":null},"x2":{"datum":721.12},"y":{"datum":56.9,"type":"quantitative","scale":{"domain":[-104.8,69.3],"nice":false,"zero":false},"axis":null},"y2":{"datum":53.9}}},
{"mark":{"type":"rect","fill":"#2f9e2f"},"encoding":{"x":{"datum":710.6,"type":"quantitative","scale":{"domain":[710.294,721.423],"nice":false,"zero":false},"axis":null},"x2":{"datum":710.72},"y":{"datum":56.6,"type":"quantitative","scale":{"domain":[-104.8,69.3],"nice":false,"zero":false},"axis":null},"y2":{"datum":54.2}}},
{"mark":{"type":"text","text":"RL","fontSize":5,"fill":"#777777","align":"left","baseline":"middle"},"encoding":{"x":{"datum":710.9,"type":"quantitative","scale":{"domain":[710.294,721.423],"nice":false,"zero":false},"axis":null},"y":{"datum":55.4,"type":"quantitative","scale":{"domain":[-104.8,69.3],"nice":false,"zero":false},"axis":null}}},
{"mark":{"type":"text","text":"RF","fontSize":5,"fill":"#777777","align":"left","baseline":"middle"},"encoding":{"x":{"datum":711.84,"type":"quantitative","scale":{"domain":[710.294,721.423],"nice":false,"zero":false},"axis":null},"y":{"datum":55.4,"type":"quantitative","scale":{"domain":[-104.8,69.3],"nice":false,"zero":false},"axis":null}}},
{"mark":{"type":"text","text":"50 Ω  DC","fontSize":5,"fill":"#777777","align":"left","baseline":"middle"},"encoding":{"x":{"datum":712.28,"type":"quantitative","scale":{"domain":[710.294,721.423],"nice":false,"zero":false},"axis":null},"y":{"datum":55.4,"type":"quantitative","scale":{"domain":[-104.8,69.3],"nice":false,"zero":false},"axis":null}}},
{"mark":{"type":"text","text":"SENSE:INT","fontSize":5,"fill":"#777777","align":"left","baseline":"middle"},"encoding":{"x":{"datum":715.0,"type":"quantitative","scale":{"domain":[710.294,721.423],"nice":false,"zero":false},"axis":null},"y":{"datum":55.4,"type":"quantitative","scale":{"domain":[-104.8,69.3],"nice":false,"zero":false},"axis":null}}},
{"mark":{"type":"text","text":"ALIGN AUTO","fontSize":5,"fill":"#777777","align":"left","baseline":"middle"},"encoding":{"x":{"datum":716.9,"type":"quantitative","scale":{"domain":[710.294,721.423],"nice":false,"zero":false},"axis":null},"y":{"datum":55.4,"type":"quantitative","scale":{"domain":[-104.8,69.3],"nice":false,"zero":false},"axis":null}}},
{"mark":{"type":"text","text":"07:35:13 PM Feb 16, 2016","fontSize":5,"fill":"#555555","align":"right","baseline":"middle"},"encoding":{"x":{"datum":721.05,"type":"quantitative","scale":{"domain":[710.294,721.423],"nice":false,"zero":false},"axis":null},"y":{"datum":55.4,"type":"quantitative","scale":{"domain":[-104.8,69.3],"nice":false,"zero":false},"axis":null}}},
{"mark":{"type":"rect","fill":"#ececec","stroke":"#9d9d9d","strokeWidth":1},"encoding":{"x":{"datum":710.6,"type":"quantitative","scale":{"domain":[710.294,721.423],"nice":false,"zero":false},"axis":null},"x2":{"datum":714.36},"y":{"datum":52.3,"type":"quantitative","scale":{"domain":[-104.8,69.3],"nice":false,"zero":false},"axis":null},"y2":{"datum":47.8}}},
{"mark":{"type":"text","text":"Center Freq 716.000000 MHz","fontSize":12.5,"fontWeight":"bold","fill":"#111111","align":"left","baseline":"middle"},"encoding":{"x":{"datum":710.64,"type":"quantitative","scale":{"domain":[710.294,721.423],"nice":false,"zero":false},"axis":null},"y":{"datum":50.1,"type":"quantitative","scale":{"domain":[-104.8,69.3],"nice":false,"zero":false},"axis":null}}},
{"mark":{"type":"text","text":"PNO: Wide","fontSize":6.5,"fill":"#333333","align":"left","baseline":"middle"},"encoding":{"x":{"datum":713.92,"type":"quantitative","scale":{"domain":[710.294,721.423],"nice":false,"zero":false},"axis":null},"y":{"datum":45.9,"type":"quantitative","scale":{"domain":[-104.8,69.3],"nice":false,"zero":false},"axis":null}}},
{"mark":{"type":"text","text":"IFGain:Low","fontSize":6,"fill":"#333333","align":"left","baseline":"middle"},"encoding":{"x":{"datum":713.92,"type":"quantitative","scale":{"domain":[710.294,721.423],"nice":false,"zero":false},"axis":null},"y":{"datum":43.3,"type":"quantitative","scale":{"domain":[-104.8,69.3],"nice":false,"zero":false},"axis":null}}},
{"mark":{"type":"text","text":"←•→","fontSize":6,"fill":"#333333","align":"center","baseline":"middle"},"encoding":{"x":{"datum":714.92,"type":"quantitative","scale":{"domain":[710.294,721.423],"nice":false,"zero":false},"axis":null},"y":{"datum":46.4,"type":"quantitative","scale":{"domain":[-104.8,69.3],"nice":false,"zero":false},"axis":null}}},
{"mark":{"type":"text","text":"Trig: Free Run","fontSize":7.5,"fill":"#222222","align":"left","baseline":"middle"},"encoding":{"x":{"datum":715.22,"type":"quantitative","scale":{"domain":[710.294,721.423],"nice":false,"zero":false},"axis":null},"y":{"datum":47.0,"type":"quantitative","scale":{"domain":[-104.8,69.3],"nice":false,"zero":false},"axis":null}}},
{"mark":{"type":"text","text":"#Atten: 30 dB","fontSize":7,"fill":"#222222","align":"left","baseline":"middle"},"encoding":{"x":{"datum":715.22,"type":"quantitative","scale":{"domain":[710.294,721.423],"nice":false,"zero":false},"axis":null},"y":{"datum":43.8,"type":"quantitative","scale":{"domain":[-104.8,69.3],"nice":false,"zero":false},"axis":null}}},
{"mark":{"type":"text","text":"Avg Type: RMS","fontSize":7.5,"fill":"#222222","align":"left","baseline":"middle"},"encoding":{"x":{"datum":717.26,"type":"quantitative","scale":{"domain":[710.294,721.423],"nice":false,"zero":false},"axis":null},"y":{"datum":50.4,"type":"quantitative","scale":{"domain":[-104.8,69.3],"nice":false,"zero":false},"axis":null}}},
{"mark":{"type":"text","text":"Avg|Hold: 100/100","fontSize":7,"fill":"#222222","align":"left","baseline":"middle"},"encoding":{"x":{"datum":717.24,"type":"quantitative","scale":{"domain":[710.294,721.423],"nice":false,"zero":false},"axis":null},"y":{"datum":47.8,"type":"quantitative","scale":{"domain":[-104.8,69.3],"nice":false,"zero":false},"axis":null}}},
{"mark":{"type":"text","text":"TRACE","fontSize":4.5,"fill":"#666666","align":"right","baseline":"middle"},"encoding":{"x":{"datum":720.6,"type":"quantitative","scale":{"domain":[710.294,721.423],"nice":false,"zero":false},"axis":null},"y":{"datum":51.9,"type":"quantitative","scale":{"domain":[-104.8,69.3],"nice":false,"zero":false},"axis":null}}},
{"mark":{"type":"text","text":"1 2 3 4 5 6","fontSize":5,"fill":"#b05ac8","align":"left","baseline":"middle"},"encoding":{"x":{"datum":720.66,"type":"quantitative","scale":{"domain":[710.294,721.423],"nice":false,"zero":false},"axis":null},"y":{"datum":51.9,"type":"quantitative","scale":{"domain":[-104.8,69.3],"nice":false,"zero":false},"axis":null}}},
{"mark":{"type":"text","text":"TYPE","fontSize":4.5,"fill":"#666666","align":"right","baseline":"middle"},"encoding":{"x":{"datum":720.6,"type":"quantitative","scale":{"domain":[710.294,721.423],"nice":false,"zero":false},"axis":null},"y":{"datum":49.4,"type":"quantitative","scale":{"domain":[-104.8,69.3],"nice":false,"zero":false},"axis":null}}},
{"mark":{"type":"text","text":"A WWWWW","fontSize":4.5,"fill":"#555555","align":"left","baseline":"middle"},"encoding":{"x":{"datum":720.66,"type":"quantitative","scale":{"domain":[710.294,721.423],"nice":false,"zero":false},"axis":null},"y":{"datum":49.4,"type":"quantitative","scale":{"domain":[-104.8,69.3],"nice":false,"zero":false},"axis":null}}},
{"mark":{"type":"text","text":"DET","fontSize":4.5,"fill":"#666666","align":"right","baseline":"middle"},"encoding":{"x":{"datum":720.6,"type":"quantitative","scale":{"domain":[710.294,721.423],"nice":false,"zero":false},"axis":null},"y":{"datum":46.8,"type":"quantitative","scale":{"domain":[-104.8,69.3],"nice":false,"zero":false},"axis":null}}},
{"mark":{"type":"text","text":"A A A A A A","fontSize":5,"fill":"#444444","align":"left","baseline":"middle"},"encoding":{"x":{"datum":720.66,"type":"quantitative","scale":{"domain":[710.294,721.423],"nice":false,"zero":false},"axis":null},"y":{"datum":46.8,"type":"quantitative","scale":{"domain":[-104.8,69.3],"nice":false,"zero":false},"axis":null}}},
{"mark":{"type":"rect","fill":"#ffffff","fillOpacity":0,"stroke":"#22d822","strokeWidth":2},"encoding":{"x":{"datum":710.6,"type":"quantitative","scale":{"domain":[710.294,721.423],"nice":false,"zero":false},"axis":null},"x2":{"datum":721.08},"y":{"datum":40.9,"type":"quantitative","scale":{"domain":[-104.8,69.3],"nice":false,"zero":false},"axis":null},"y2":{"datum":-79.6}}},
{"mark":{"type":"text","text":"Ref Offset 16.37 dB","fontSize":7.5,"fill":"#222222","align":"left","baseline":"middle"},"encoding":{"x":{"datum":711.64,"type":"quantitative","scale":{"domain":[710.294,721.423],"nice":false,"zero":false},"axis":null},"y":{"datum":37.0,"type":"quantitative","scale":{"domain":[-104.8,69.3],"nice":false,"zero":false},"axis":null}}},
{"mark":{"type":"text","text":"Ref 30.00 dBm","fontSize":10,"fontWeight":"bold","fill":"#111111","align":"left","baseline":"middle"},"encoding":{"x":{"datum":711.64,"type":"quantitative","scale":{"domain":[710.294,721.423],"nice":false,"zero":false},"axis":null},"y":{"datum":33.0,"type":"quantitative","scale":{"domain":[-104.8,69.3],"nice":false,"zero":false},"axis":null}}},
{"mark":{"type":"text","text":"10 dB/div","fontSize":7,"fill":"#9a9a9a","align":"left","baseline":"middle"},"encoding":{"x":{"datum":710.64,"type":"quantitative","scale":{"domain":[710.294,721.423],"nice":false,"zero":false},"axis":null},"y":{"datum":33.0,"type":"quantitative","scale":{"domain":[-104.8,69.3],"nice":false,"zero":false},"axis":null}}},
{"mark":{"type":"text","text":"Log","fontSize":6,"fill":"#9a9a9a","align":"left","baseline":"middle"},"encoding":{"x":{"datum":710.64,"type":"quantitative","scale":{"domain":[710.294,721.423],"nice":false,"zero":false},"axis":null},"y":{"datum":30.8,"type":"quantitative","scale":{"domain":[-104.8,69.3],"nice":false,"zero":false},"axis":null}}},
{"mark":{"type":"text","text":"Mkr1 716.000 MHz","fontSize":11.5,"fontWeight":"bold","fill":"#22cc22","align":"right","baseline":"middle"},"encoding":{"x":{"datum":721.04,"type":"quantitative","scale":{"domain":[710.294,721.423],"nice":false,"zero":false},"axis":null},"y":{"datum":38.7,"type":"quantitative","scale":{"domain":[-104.8,69.3],"nice":false,"zero":false},"axis":null}}},
{"mark":{"type":"text","text":"-19.703 dBm","fontSize":11.5,"fontWeight":"bold","fill":"#22cc22","align":"right","baseline":"middle"},"encoding":{"x":{"datum":721.04,"type":"quantitative","scale":{"domain":[710.294,721.423],"nice":false,"zero":false},"axis":null},"y":{"datum":33.8,"type":"quantitative","scale":{"domain":[-104.8,69.3],"nice":false,"zero":false},"axis":null}}},
{"data":{"name":"vgrid"},"mark":{"type":"rule","stroke":"#bcbcbc","strokeWidth":1},"encoding":{"x":{"field":"f","type":"quantitative","scale":{"domain":[710.294,721.423],"nice":false,"zero":false},"axis":null},"y":{"datum":-70,"type":"quantitative","scale":{"domain":[-104.8,69.3],"nice":false,"zero":false},"axis":null},"y2":{"datum":30}}},
{"data":{"name":"hgrid"},"mark":{"type":"rule","stroke":"#bcbcbc","strokeWidth":1},"encoding":{"y":{"field":"d","type":"quantitative","scale":{"domain":[-104.8,69.3],"nice":false,"zero":false},"axis":null},"x":{"datum":711,"type":"quantitative","scale":{"domain":[710.294,721.423],"nice":false,"zero":false},"axis":null},"x2":{"datum":721}}},
{"data":{"name":"hgrid"},"mark":{"type":"text","fontSize":6,"fill":"#9a9a9a","align":"right","baseline":"middle"},"encoding":{"text":{"field":"lab","type":"nominal"},"y":{"field":"d","type":"quantitative","scale":{"domain":[-104.8,69.3],"nice":false,"zero":false},"axis":null},"x":{"datum":710.95,"type":"quantitative","scale":{"domain":[710.294,721.423],"nice":false,"zero":false},"axis":null}}},
{"mark":{"type":"rect","fill":"#ffffff","fillOpacity":0,"stroke":"#8a8a8a","strokeWidth":1.2},"encoding":{"x":{"datum":711,"type":"quantitative","scale":{"domain":[710.294,721.423],"nice":false,"zero":false},"axis":null},"x2":{"datum":721},"y":{"datum":30,"type":"quantitative","scale":{"domain":[-104.8,69.3],"nice":false,"zero":false},"axis":null},"y2":{"datum":-70}}},
{"mark":{"type":"rule","stroke":"#3ade3a","strokeWidth":1},"encoding":{"x":{"datum":711,"type":"quantitative","scale":{"domain":[710.294,721.423],"nice":false,"zero":false},"axis":null},"x2":{"datum":721},"y":{"datum":-13,"type":"quantitative","scale":{"domain":[-104.8,69.3],"nice":false,"zero":false},"axis":null}}},
{"mark":{"type":"text","text":"-13.00 dBm","fontSize":4.5,"fill":"#3ade3a","align":"right","baseline":"middle"},"encoding":{"x":{"datum":720.96,"type":"quantitative","scale":{"domain":[710.294,721.423],"nice":false,"zero":false},"axis":null},"y":{"datum":-11.6,"type":"quantitative","scale":{"domain":[-104.8,69.3],"nice":false,"zero":false},"axis":null}}},
{"data":{"name":"traceR"},"mark":{"type":"line","color":"#f2a532","strokeWidth":1.4},"encoding":{"x":{"field":"f","type":"quantitative","scale":{"domain":[710.294,721.423],"nice":false,"zero":false},"axis":null},"y":{"field":"d","type":"quantitative","scale":{"domain":[-104.8,69.3],"nice":false,"zero":false},"axis":null}}},
{"data":{"name":"markR"},"mark":{"type":"point","shape":"M0,-1L0.55,0L0,1L-0.55,0Z","filled":true,"fill":"#1fb51f","stroke":"#168f16","strokeWidth":0.5,"size":169,"opacity":1},"encoding":{"x":{"field":"f","type":"quantitative","scale":{"domain":[710.294,721.423],"nice":false,"zero":false},"axis":null},"y":{"field":"d","type":"quantitative","scale":{"domain":[-104.8,69.3],"nice":false,"zero":false},"axis":null}}},
{"mark":{"type":"text","text":"1","fontSize":6,"fill":"#e09a20","align":"left","baseline":"middle"},"encoding":{"x":{"datum":716.18,"type":"quantitative","scale":{"domain":[710.294,721.423],"nice":false,"zero":false},"axis":null},"y":{"datum":-14.0,"type":"quantitative","scale":{"domain":[-104.8,69.3],"nice":false,"zero":false},"axis":null}}},
{"mark":{"type":"text","text":"Center 716.000 MHz","fontSize":10,"fontWeight":"bold","fill":"#111111","align":"left","baseline":"middle"},"encoding":{"x":{"datum":710.62,"type":"quantitative","scale":{"domain":[710.294,721.423],"nice":false,"zero":false},"axis":null},"y":{"datum":-72.6,"type":"quantitative","scale":{"domain":[-104.8,69.3],"nice":false,"zero":false},"axis":null}}},
{"mark":{"type":"text","text":"Span 10.00 MHz","fontSize":10,"fontWeight":"bold","fill":"#111111","align":"right","baseline":"middle"},"encoding":{"x":{"datum":721.04,"type":"quantitative","scale":{"domain":[710.294,721.423],"nice":false,"zero":false},"axis":null},"y":{"datum":-72.6,"type":"quantitative","scale":{"domain":[-104.8,69.3],"nice":false,"zero":false},"axis":null}}},
{"mark":{"type":"text","text":"#Res BW 75 kHz","fontSize":10,"fontWeight":"bold","fill":"#111111","align":"left","baseline":"middle"},"encoding":{"x":{"datum":710.6,"type":"quantitative","scale":{"domain":[710.294,721.423],"nice":false,"zero":false},"axis":null},"y":{"datum":-77.0,"type":"quantitative","scale":{"domain":[-104.8,69.3],"nice":false,"zero":false},"axis":null}}},
{"mark":{"type":"text","text":"#VBW 220 kHz*","fontSize":10,"fontWeight":"bold","fill":"#111111","align":"left","baseline":"middle"},"encoding":{"x":{"datum":714.54,"type":"quantitative","scale":{"domain":[710.294,721.423],"nice":false,"zero":false},"axis":null},"y":{"datum":-77.0,"type":"quantitative","scale":{"domain":[-104.8,69.3],"nice":false,"zero":false},"axis":null}}},
{"mark":{"type":"text","text":"Sweep  5.333 ms (10001 pts)","fontSize":10,"fontWeight":"bold","fill":"#111111","align":"right","baseline":"middle"},"encoding":{"x":{"datum":721.07,"type":"quantitative","scale":{"domain":[710.294,721.423],"nice":false,"zero":false},"axis":null},"y":{"datum":-77.0,"type":"quantitative","scale":{"domain":[-104.8,69.3],"nice":false,"zero":false},"axis":null}}},
{"mark":{"type":"rect","fill":"#f7f7f7","stroke":"#c8c8c8","strokeWidth":0.7},"encoding":{"x":{"datum":710.6,"type":"quantitative","scale":{"domain":[710.294,721.423],"nice":false,"zero":false},"axis":null},"x2":{"datum":721.08},"y":{"datum":-80.5,"type":"quantitative","scale":{"domain":[-104.8,69.3],"nice":false,"zero":false},"axis":null},"y2":{"datum":-85.0}}},
{"mark":{"type":"text","text":"MSG","fontSize":4.5,"fill":"#888888","align":"left","baseline":"middle"},"encoding":{"x":{"datum":710.64,"type":"quantitative","scale":{"domain":[710.294,721.423],"nice":false,"zero":false},"axis":null},"y":{"datum":-82.8,"type":"quantitative","scale":{"domain":[-104.8,69.3],"nice":false,"zero":false},"axis":null}}},
{"mark":{"type":"text","text":"STATUS","fontSize":4.5,"fill":"#888888","align":"left","baseline":"middle"},"encoding":{"x":{"datum":717.3,"type":"quantitative","scale":{"domain":[710.294,721.423],"nice":false,"zero":false},"axis":null},"y":{"datum":-82.8,"type":"quantitative","scale":{"domain":[-104.8,69.3],"nice":false,"zero":false},"axis":null}}},
{"mark":{"type":"text","text":"16QAM High channel 1RB","fontSize":16,"fill":"#000000","align":"center","baseline":"middle"},"encoding":{"x":{"datum":715.89,"type":"quantitative","scale":{"domain":[710.294,721.423],"nice":false,"zero":false},"axis":null},"y":{"datum":-90.4,"type":"quantitative","scale":{"domain":[-104.8,69.3],"nice":false,"zero":false},"axis":null}}}
]}
]
}
